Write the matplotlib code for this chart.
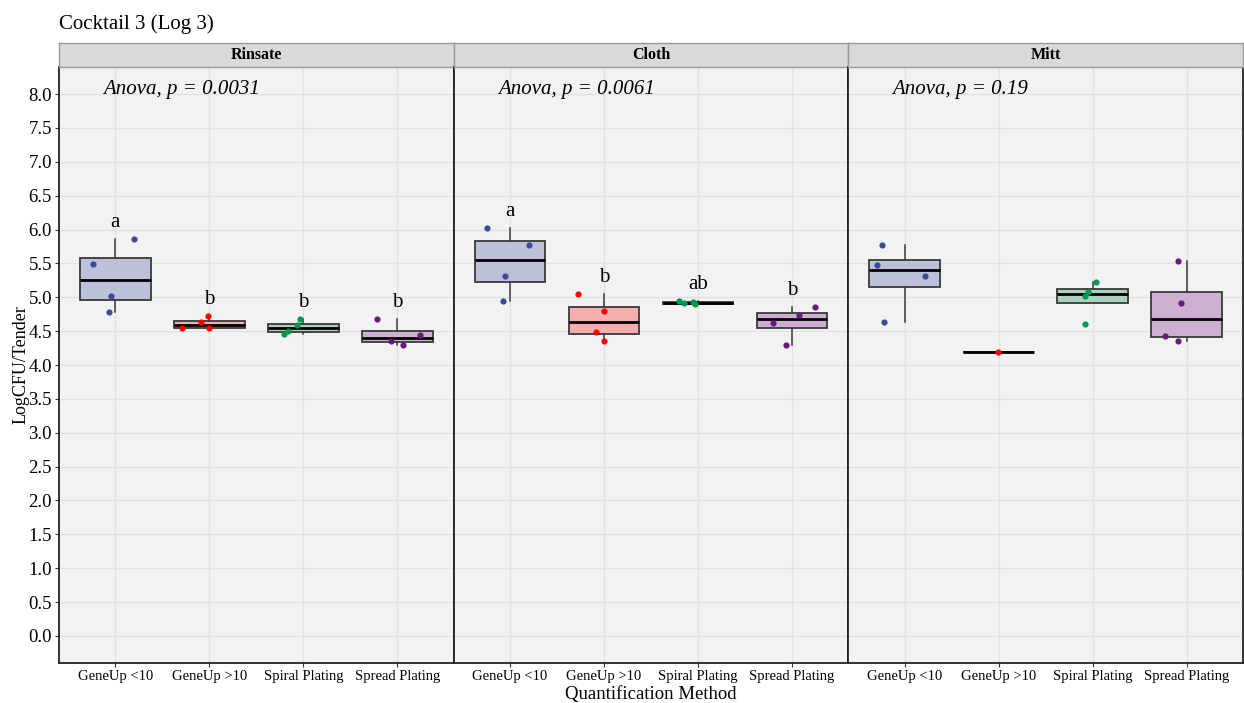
import matplotlib
matplotlib.use("Agg")
import matplotlib.pyplot as plt

plt.rcParams['font.family'] = ['Liberation Serif', 'DejaVu Serif']

# ---- data -------------------------------------------------------------
methods = ["GeneUp <10", "GeneUp >10", "Spiral Plating", "Spread Plating"]
surfaces = ["Rinsate", "Cloth", "Mitt"]

rinsate_vals = [[5.86, 5.49, 5.02, 4.78],
                [4.54, 4.63, 4.73, 4.54],
                [4.68, 4.59, 4.50, 4.46],
                [4.68, 4.44, 4.36, 4.30]]
cloth_vals = [[6.03, 5.77, 5.32, 4.94],
              [5.05, 4.79, 4.49, 4.36],
              [4.95, 4.91, 4.93, 4.90],
              [4.86, 4.74, 4.62, 4.30]]
mitt_vals = [[5.77, 5.48, 5.32, 4.63],
             [4.19],
             [5.22, 5.08, 5.02, 4.60],
             [5.53, 4.92, 4.43, 4.36]]

# horizontal jitter of the replicate points (category units)
rinsate_jit = [[0.20, -0.24, -0.05, -0.07],
               [-0.29, -0.09, -0.01, 0.00],
               [-0.03, -0.07, -0.16, -0.21],
               [-0.22, 0.24, -0.07, 0.06]]
cloth_jit = [[-0.24, 0.20, -0.05, -0.07],
             [-0.28, 0.00, -0.08, 0.00],
             [-0.20, -0.15, -0.05, -0.03],
             [0.25, 0.07, -0.20, -0.06]]
mitt_jit = [[-0.24, -0.30, 0.22, -0.22],
            [-0.01],
            [0.04, -0.05, -0.08, -0.08],
            [-0.09, -0.06, -0.23, -0.09]]

anova_p = ["0.0031", "0.0061", "0.19"]
rinsate_letters = ["a", "b", "b", "b"]
cloth_letters = ["a", "b", "ab", "b"]
mitt_letters = [None, None, None, None]

yticks = [i * 0.5 for i in range(17)]

# ---- styling ----------------------------------------------------------
point_colors = ["#3B4A9C", "#FF0000", "#00984C", "#6A1A7E"]
fill_colors = ["#BCC0D9", "#F4AEAE", "#A9D1BB", "#CDAFD2"]
panel_bg = "#F2F2F2"
grid_col = "#E2E2E2"

W, H = 1244, 703
fig = plt.figure(figsize=(W / 100, H / 100), dpi=100)

left, right = 59, 1243
top, bottom = 67, 663
strip_top = 43
pw = (right - left) / 3

all_vals = [rinsate_vals, cloth_vals, mitt_vals]
all_jit = [rinsate_jit, cloth_jit, mitt_jit]
all_letters = [rinsate_letters, cloth_letters, mitt_letters]

positions = list(range(1, len(methods) + 1))

for k, surf in enumerate(surfaces):
    x0 = left + k * pw
    ax = fig.add_axes([x0 / W, 1 - bottom / H, pw / W, (bottom - top) / H])
    ax.set_facecolor(panel_bg)

    vals = all_vals[k]
    bp = ax.boxplot(vals, positions=positions, widths=0.75, patch_artist=True,
                    showfliers=False, showcaps=False, whis=1.5,
                    boxprops=dict(edgecolor="#3A3A3A", linewidth=1.3),
                    whiskerprops=dict(color="#3A3A3A", linewidth=1.1),
                    medianprops=dict(color="black", linewidth=2.0),
                    zorder=2)
    for patch, fc in zip(bp['boxes'], fill_colors):
        patch.set_facecolor(fc)

    for i, (v, j) in enumerate(zip(vals, all_jit[k])):
        xs = [positions[i] + d for d in j]
        ax.scatter(xs, v, s=20, color=point_colors[i], zorder=4, linewidths=0)

    for i, lab in enumerate(all_letters[k]):
        if lab:
            ax.text(positions[i], max(vals[i]) + 0.24, lab, ha='center', va='center',
                    fontsize=15, zorder=5)

    ax.text(0.87, 8.07, f"Anova, p = {anova_p[k]}", ha='left', va='center',
            fontsize=15, style='italic')

    ax.set_xlim(0.4, 4.6)
    ax.set_ylim(-0.4, 8.4)
    ax.set_yticks(yticks)
    ax.set_xticks(positions)
    ax.set_xticklabels(methods, fontsize=10.5)
    ax.grid(True, color=grid_col, linewidth=1.0, zorder=0)
    ax.set_axisbelow(True)
    ax.tick_params(axis='both', length=3, width=0.8, color="#333333", pad=2)
    if k == 0:
        ax.set_yticklabels([f"{t:.1f}" for t in yticks], fontsize=13.5)
    else:
        ax.tick_params(axis='y', length=0, labelleft=False)
    for s in ax.spines.values():
        s.set_color("#222222")
        s.set_linewidth(1.3)

    # facet strip
    sax = fig.add_axes([x0 / W, 1 - top / H, pw / W, (top - strip_top) / H])
    sax.set_xticks([])
    sax.set_yticks([])
    sax.set_facecolor("#D9D9D9")
    for s in sax.spines.values():
        s.set_color("#9A9A9A")
        s.set_linewidth(1.0)
    sax.text(0.5, 0.5, surf, ha='center', va='center', fontsize=11.5,
             fontweight='bold', transform=sax.transAxes)

fig.text(left / W, 1 - 24 / H, "Cocktail 3 (Log 3)", ha='left', va='center', fontsize=15)
fig.text((left + right) / 2 / W, 1 - 694 / H, "Quantification Method",
         ha='center', va='center', fontsize=13.5)
fig.text(21 / W, 1 - 365 / H, "LogCFU/Tender", ha='center', va='center',
         rotation=90, fontsize=13)

fig.savefig("out.png", dpi=100, facecolor="white")
